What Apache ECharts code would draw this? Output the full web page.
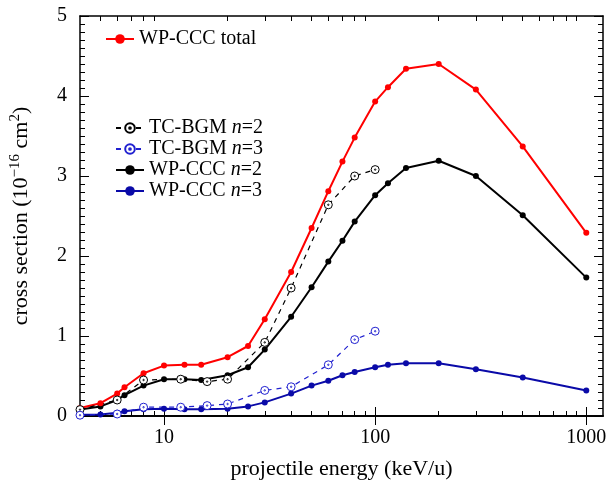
<!DOCTYPE html>
<html>
<head>
<meta charset="utf-8" />
<title>cross sections</title>
<script src="https://cdn.jsdelivr.net/npm/echarts@6/dist/echarts.min.js"></script>
<style>
  body { margin: 0; background: #fff; }
</style>
</head>
<body>
<div id="chart" style="width: 614px; height: 485px"></div>
<script>
// WP-CCC energies (keV/u) and cross sections (1e-16 cm^2)
const energyWP = [4, 5, 6, 6.5, 8, 10, 12.5, 15, 20, 25, 30, 40, 50, 60, 70, 80, 100, 115, 140, 200, 300, 500, 1000];
const wpTotal = [0.10, 0.16, 0.28, 0.36, 0.535, 0.63, 0.64, 0.64, 0.735, 0.875, 1.21, 1.80, 2.35, 2.81, 3.18, 3.48, 3.93, 4.11, 4.34, 4.40, 4.08, 3.37, 2.29];
const wpN2 = [0.08, 0.12, 0.20, 0.26, 0.38, 0.46, 0.46, 0.45, 0.51, 0.61, 0.83, 1.24, 1.61, 1.93, 2.19, 2.43, 2.76, 2.91, 3.10, 3.19, 3.00, 2.51, 1.73];
const wpN3 = [0.015, 0.02, 0.04, 0.06, 0.085, 0.09, 0.085, 0.085, 0.09, 0.12, 0.17, 0.28, 0.38, 0.44, 0.51, 0.55, 0.61, 0.64, 0.66, 0.66, 0.585, 0.48, 0.32];

// TC-BGM
const energyTC = [4, 6, 8, 12, 16, 20, 30, 40, 60, 80, 100];
const tcN2 = [0.08, 0.20, 0.45, 0.46, 0.43, 0.46, 0.92, 1.60, 2.64, 3.00, 3.08];
const tcN3 = [0.01, 0.025, 0.11, 0.11, 0.13, 0.15, 0.32, 0.365, 0.64, 0.955, 1.06];

const majorTicksX = [10, 100, 1000];
const minorTicksX = [5, 6, 7, 8, 9, 20, 30, 40, 50, 60, 70, 80, 90, 200, 300, 400, 500, 600, 700, 800, 900];

const FONT = "Liberation Serif";
const ringDot = "path://M0,-4A4,4 0 1,1 0,4A4,4 0 1,1 0,-4Z M0,-0.7A0.7,0.7 0 1,1 0,0.7A0.7,0.7 0 1,1 0,-0.7Z";

function pairs(xs, ys) {
  return xs.map((x, i) => [x, ys[i]]);
}

function solid(name, xs, ys, color) {
  return {
    name: name, type: "line", data: pairs(xs, ys),
    symbol: "circle", symbolSize: 6,
    lineStyle: { color: color, width: 2 },
    itemStyle: { color: color }
  };
}

function dashed(name, xs, ys, color) {
  return {
    name: name, type: "line", data: pairs(xs, ys),
    symbol: ringDot, symbolSize: 8,
    lineStyle: { color: color, width: 1.2, type: [5, 5] },
    itemStyle: { color: "#fff", borderColor: color, borderWidth: 1 },
    z: 3
  };
}

function xAxisBase(pos, ticks, len, labels) {
  return {
    type: "log", min: 4, max: 1200, position: pos, gridIndex: 0,
    axisLine: { show: true, lineStyle: { color: "#000", width: 1.5 } },
    axisTick: { show: true, inside: true, length: len, customValues: ticks, lineStyle: { color: "#000", width: 1 } },
    axisLabel: labels ? {
      show: true, customValues: ticks, color: "#000", fontSize: 20, fontFamily: FONT, margin: 12,
      formatter: function (v) { return String(Math.round(v)); }
    } : { show: false },
    splitLine: { show: false }
  };
}

function yAxisBase(pos, labels) {
  return {
    type: "value", min: 0, max: 5, interval: 1, position: pos,
    axisLine: { show: true, lineStyle: { color: "#000", width: 1.5 } },
    axisTick: { show: true, inside: true, length: 9, lineStyle: { color: "#000", width: 1 } },
    minorTick: { show: true, splitNumber: 10, length: 5, lineStyle: { color: "#000", width: 1 } },
    axisLabel: labels ? { show: true, color: "#000", fontSize: 20, fontFamily: FONT, margin: 13 } : { show: false },
    splitLine: { show: false }, minorSplitLine: { show: false }
  };
}

const chart = echarts.init(document.getElementById("chart"));

const xMain = xAxisBase("bottom", majorTicksX, 9, true);
xMain.name = "projectile energy (keV/u)";
xMain.nameLocation = "middle";
xMain.nameGap = 42;
xMain.nameTextStyle = { color: "#000", fontSize: 22, fontFamily: FONT };

const yMain = yAxisBase("left", true);
yMain.name = "{a|cross section (10}{s|\u221216}{a| cm}{s|2}{a|)}";
yMain.nameLocation = "middle";
yMain.nameGap = 46;
yMain.nameTextStyle = {
  color: "#000", fontSize: 22, fontFamily: FONT,
  rich: {
    a: { fontSize: 22, fontFamily: FONT, color: "#000", lineHeight: 26 },
    s: { fontSize: 15, fontFamily: FONT, color: "#000", verticalAlign: "top", lineHeight: 15 }
  }
};

const legendText = {
  color: "#000", fontSize: 20, fontFamily: FONT, lineHeight: 18,
  rich: { i: { fontStyle: "italic", fontSize: 20, fontFamily: FONT, color: "#000", lineHeight: 18 } }
};

chart.setOption({
  animation: false,
  backgroundColor: "#fff",
  grid: { left: 80, right: 11, top: 16, bottom: 67 },
  legend: [
    {
      data: ["WP-CCC total"], left: 100, top: 24,
      itemWidth: 28, itemHeight: 12, itemGap: 8,
      textStyle: legendText
    },
    {
      data: ["TC-BGM n=2", "TC-BGM n=3", "WP-CCC n=2", "WP-CCC n=3"],
      orient: "vertical", left: 110, top: 113,
      itemWidth: 28, itemHeight: 12, itemGap: 1,
      textStyle: legendText,
      formatter: function (name) { return name.replace("n=", "{i|n}="); }
    }
  ],
  xAxis: [
    xMain,
    xAxisBase("top", majorTicksX, 9, false),
    xAxisBase("bottom", minorTicksX, 5, false),
    xAxisBase("top", minorTicksX, 5, false)
  ],
  yAxis: [yMain, yAxisBase("right", false)],
  series: [
    solid("WP-CCC n=3", energyWP, wpN3, "#0a0aa8"),
    solid("WP-CCC n=2", energyWP, wpN2, "#000000"),
    solid("WP-CCC total", energyWP, wpTotal, "#ff0000"),
    dashed("TC-BGM n=2", energyTC, tcN2, "#000000"),
    dashed("TC-BGM n=3", energyTC, tcN3, "#2020d0")
  ]
});
</script>
</body>
</html>
